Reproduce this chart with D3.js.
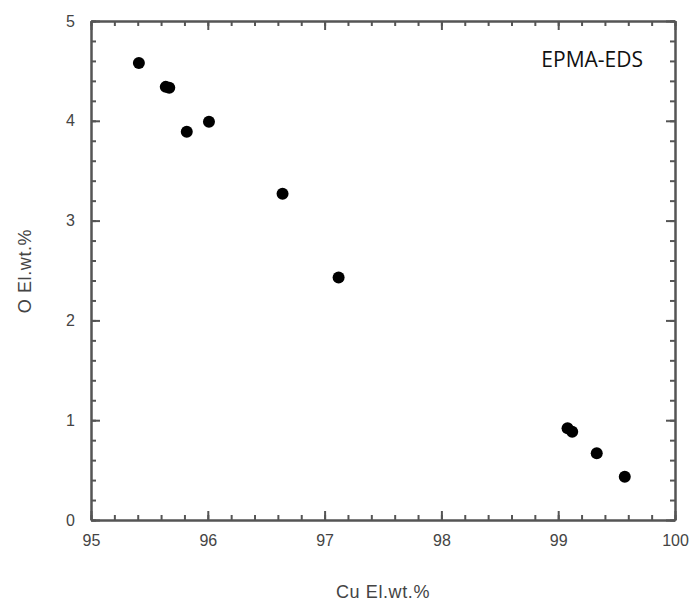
<!DOCTYPE html>
<meta charset="utf-8">
<title>EPMA-EDS</title>
<style>
body { margin: 0; background: white; }
svg { font-family: Arial, "Liberation Sans", sans-serif; }
.tick text { fill: #444; font-size: 16px; }
.axis path, .axis line { stroke: #555; stroke-width: 2px; }
</style>
<body>
<script src="https://d3js.org/d3.v7.min.js"></script>
<script>
// data
const cu = [95.41, 95.64, 95.67, 95.82, 96.01, 96.64, 97.12, 99.08, 99.12, 99.33, 99.57];
const o  = [4.58, 4.34, 4.33, 3.89, 3.99, 3.27, 2.43, 0.92, 0.885, 0.67, 0.434];
const xTicks = [95, 96, 97, 98, 99, 100];
const yTicks = [0, 1, 2, 3, 4, 5];

const width = 691, height = 601;
const margin = {top: 21, right: 16, bottom: 81, left: 91};

const svg = d3.select("body").append("svg")
    .attr("width", width)
    .attr("height", height);

const x = d3.scaleLinear().domain([95, 100]).range([margin.left, width - margin.right]);
const y = d3.scaleLinear().domain([0, 5]).range([height - margin.bottom, margin.top]);

const minorX = d3.range(95, 100.001, 0.2);
const minorY = d3.range(0, 5.001, 0.2);

// minor ticks, inward on all sides
function minor(axis, vals) {
  return axis.tickValues(vals).tickSizeInner(-5).tickSizeOuter(0).tickFormat("");
}
svg.append("g").attr("class", "axis")
  .attr("transform", "translate(0," + y(0) + ")")
  .call(minor(d3.axisBottom(x), minorX));
svg.append("g").attr("class", "axis")
  .attr("transform", "translate(0," + y(5) + ")")
  .call(minor(d3.axisTop(x), minorX));
svg.append("g").attr("class", "axis")
  .attr("transform", "translate(" + x(95) + ",0)")
  .call(minor(d3.axisLeft(y), minorY));
svg.append("g").attr("class", "axis")
  .attr("transform", "translate(" + x(100) + ",0)")
  .call(minor(d3.axisRight(y), minorY));

// major ticks with labels
svg.append("g").attr("class", "axis")
  .attr("transform", "translate(0," + y(0) + ")")
  .call(d3.axisBottom(x).tickValues(xTicks).tickSizeInner(-9).tickSizeOuter(0).tickPadding(15).tickFormat(d3.format("d")));
svg.append("g").attr("class", "axis")
  .attr("transform", "translate(" + x(95) + ",0)")
  .call(d3.axisLeft(y).tickValues(yTicks).tickSizeInner(-9).tickSizeOuter(0).tickPadding(16).tickFormat(d3.format("d")));
svg.append("g").attr("class", "axis")
  .attr("transform", "translate(0," + y(5) + ")")
  .call(d3.axisTop(x).tickValues(xTicks).tickSizeInner(-9).tickSizeOuter(0).tickFormat(""));
svg.append("g").attr("class", "axis")
  .attr("transform", "translate(" + x(100) + ",0)")
  .call(d3.axisRight(y).tickValues(yTicks).tickSizeInner(-9).tickSizeOuter(0).tickFormat(""));

// points
svg.selectAll("circle.pt")
  .data(cu)
  .enter()
  .append("circle")
    .attr("class", "pt")
    .attr("cx", function(d) { return x(d); })
    .attr("cy", function(d, i) { return y(o[i]); })
    .attr("r", 6)
    .attr("fill", "black");

// labels
svg.append("text")
  .attr("x", 643).attr("y", 67)
  .attr("text-anchor", "end")
  .style("font-family", "'Open Sans', sans-serif")
  .style("font-size", "21px")
  .attr("fill", "#111")
  .text("EPMA-EDS");

svg.append("text")
  .attr("x", (x(95) + x(100)) / 2).attr("y", 598)
  .attr("text-anchor", "middle")
  .style("font-size", "18px")
  .style("letter-spacing", "0.6px")
  .attr("fill", "#444")
  .text("Cu El.wt.%");

svg.append("text")
  .attr("transform", "translate(31," + 271 + ")rotate(-90)")
  .attr("text-anchor", "middle")
  .style("font-size", "18px")
  .style("letter-spacing", "0.6px")
  .attr("fill", "#444")
  .text("O El.wt.%");
</script>
</body>
